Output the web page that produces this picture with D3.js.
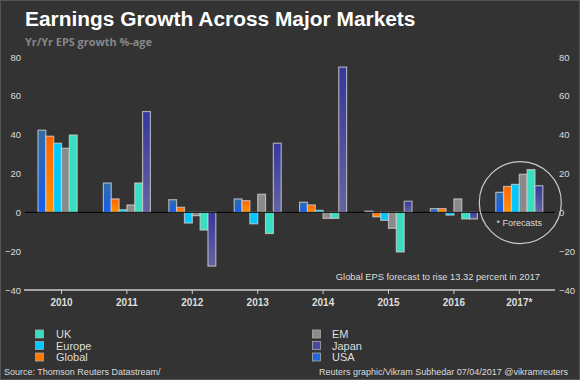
<!DOCTYPE html>
<html><head><meta charset="utf-8">
<script src="https://cdn.jsdelivr.net/npm/d3@7/dist/d3.min.js"></script>
<style>
html,body{margin:0;padding:0;background:#333;}
svg{display:block;}
</style></head>
<body>
<svg id="c" width="580" height="380"></svg>
<script>
const years = ["2010","2011","2012","2013","2014","2015","2016","2017*"];
const seriesNames = ["USA","Global","Europe","EM","UK","Japan"];
const usa    = [42.3, 15.1, 6.5, 6.9, 5.2, 0.6, 1.9, 10.3];
const global = [39.2, 6.9, 2.6, 6.0, 3.8, -2.3, 1.9, 13.32];
const europe = [35.6, 1.3, -5.5, -5.9, 1.0, -4.1, -1.4, 14.4];
const em     = [33.0, 3.8, -1.7, 9.3, -3.1, -8.2, 6.9, 19.6];
const uk     = [39.8, 15.1, -9.1, -10.9, -3.1, -20.4, -3.4, 22.0];
const japan  = [null, 51.9, -27.7, 35.6, 74.8, 5.7, -3.4, 13.7];
const yTicks = [-40, -20, 0, 20, 40, 60, 80];
const legendLeft = ["UK","Europe","Global"];
const legendRight = ["EM","Japan","USA"];

const values = {USA: usa, Global: global, Europe: europe, EM: em, UK: uk, Japan: japan};
const fills = {USA:"url(#gUSA)", Global:"url(#gGlobal)", Europe:"#00C8FF", EM:"#8a8a8a", UK:"#38DEC2", Japan:"url(#gJapan)"};
const swatch = {USA:"#2468D8", Global:"#FF7A00", Europe:"#00C8FF", EM:"#8a8a8a", UK:"#38DEC2", Japan:"#4848A0"};

const svg = d3.select("#c");
const defs = svg.append("defs");
function grad(id, top, bottom){
  const g = defs.append("linearGradient").attr("id", id).attr("x1",0).attr("y1",0).attr("x2",0).attr("y2",1);
  g.append("stop").attr("offset","0%").attr("stop-color",top);
  g.append("stop").attr("offset","100%").attr("stop-color",bottom);
}
grad("gUSA", "#306CA6", "#145EF2");
grad("gGlobal", "#FF6400", "#FF9200");
grad("gJapan", "#36369E", "#6464A2");

svg.append("rect").attr("x",0.5).attr("y",0.5).attr("width",579).attr("height",379)
  .attr("fill","#333333").attr("stroke","#555").attr("stroke-width",1);

const x = d3.scaleBand().domain(years).range([28.8, 552]).paddingInner(0).paddingOuter(0);
const x1 = d3.scaleBand().domain(seriesNames).range([x.bandwidth()/2 - 23.5, x.bandwidth()/2 + 23.5]).padding(0);
const y = d3.scaleLinear().domain([-40, 80]).range([290, 57]);

// title
svg.append("text").attr("x",25).attr("y",26).text("Earnings Growth Across Major Markets")
  .attr("fill","#fff").attr("font-family","Liberation Sans, Arial, sans-serif").attr("font-weight","bold").attr("font-size",20.9);
svg.append("text").attr("x",25).attr("y",46).text("Yr/Yr EPS growth %-age")
  .attr("fill","#888").attr("font-family","Open Sans, sans-serif").attr("font-weight","bold").attr("font-size",10.9);

// y axis labels
const lbl = {fill:"#ddd", ff:"Liberation Sans, Arial, sans-serif", fs:9.5};
const yl = d3.axisLeft(y).tickValues(yTicks).tickSize(0).tickPadding(0);
const gL = svg.append("g").attr("transform","translate(21,0)").call(yl);
const yr = d3.axisRight(y).tickValues(yTicks).tickSize(0).tickPadding(0);
const gR = svg.append("g").attr("transform","translate(559,0)").call(yr);
[gL,gR].forEach(g=>{
  g.select(".domain").remove();
  g.selectAll("text").attr("fill",lbl.fill).attr("font-family",lbl.ff).attr("font-size",lbl.fs);
});

// bars
const groups = svg.append("g").selectAll("g").data(years).join("g")
  .attr("transform", d => `translate(${x(d)},0)`);
groups.selectAll("rect").data((d,i) => seriesNames.map(s => ({s, v: values[s][i]})).filter(o => o.v !== null))
  .join("rect")
  .attr("x", d => x1(d.s))
  .attr("width", x1.bandwidth())
  .attr("y", d => y(Math.max(0, d.v)))
  .attr("height", d => Math.abs(y(d.v) - y(0)))
  .attr("fill", d => fills[d.s])
  .attr("stroke", "rgba(210,210,210,0.75)")
  .attr("stroke-width", 1.2);

// zero line
svg.append("line").attr("x1",25).attr("x2",555).attr("y1",y(0)).attr("y2",y(0))
  .attr("stroke","#000").attr("stroke-width",1);

// x axis
const xa = d3.axisBottom(x).tickSize(4).tickPadding(5);
const gX = svg.append("g").attr("transform",`translate(0,${y(-40)})`).call(xa);
gX.select(".domain").remove();
gX.selectAll("line").attr("stroke","#ccc");
gX.selectAll("text").attr("fill","#ddd").attr("font-family",lbl.ff).attr("font-size",10).attr("font-weight","bold");
svg.append("line").attr("x1",24).attr("x2",555).attr("y1",y(-40)).attr("y2",y(-40))
  .attr("stroke","#ccc").attr("stroke-width",1.5);

// forecast circle
const cx = x("2017*") + x.bandwidth()/2;
svg.append("circle").attr("cx",cx+1).attr("cy",y(5)).attr("r",41)
  .attr("fill","none").attr("stroke","#ccc").attr("stroke-width",1.2);
svg.append("text").attr("x",cx).attr("y",226).attr("text-anchor","middle").text("* Forecasts")
  .attr("fill","#ddd").attr("font-family",lbl.ff).attr("font-size",9);

svg.append("text").attr("x",540).attr("y",280).attr("text-anchor","end")
  .text("Global EPS forecast to rise 13.32 percent in 2017")
  .attr("fill","#ddd").attr("font-family",lbl.ff).attr("font-size",9.3);

// legend
function legend(list, sx, tx){
  list.forEach((n,i)=>{
    const yy = 334 + i*11.5;
    svg.append("rect").attr("x",sx).attr("y",yy-4).attr("width",8).attr("height",8)
      .attr("fill",swatch[n]).attr("stroke","#aaa").attr("stroke-width",0.8);
    svg.append("text").attr("x",tx).attr("y",yy+4).text(n)
      .attr("fill","#ddd").attr("font-family",lbl.ff).attr("font-size",11);
  });
}
legend(legendLeft, 35.5, 56);
legend(legendRight, 312.5, 332);

svg.append("text").attr("x",4).attr("y",375).text("Source: Thomson Reuters Datastream/")
  .attr("fill","#ddd").attr("font-family",lbl.ff).attr("font-size",9);
svg.append("text").attr("x",568).attr("y",375).attr("text-anchor","end")
  .text("Reuters graphic/Vikram Subhedar 07/04/2017 @vikramreuters")
  .attr("fill","#ddd").attr("font-family",lbl.ff).attr("font-size",9);
</script>
</body></html>
